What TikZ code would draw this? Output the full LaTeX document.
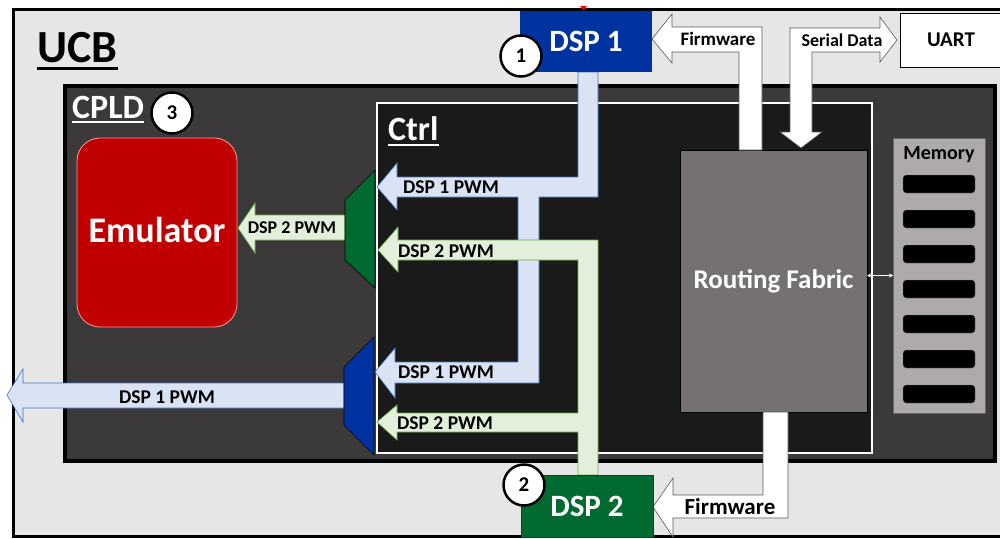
\documentclass[tikz,border=0pt]{standalone}
\usepackage{fontspec}
\setmainfont{Carlito}
\usetikzlibrary{positioning, arrows.meta}

\definecolor{ucbgray}{HTML}{E6E6E6}
\definecolor{cpldgray}{HTML}{3B3939}
\definecolor{ctrlblack}{HTML}{1A1A1A}
\definecolor{fabricgray}{HTML}{767171}
\definecolor{memgray}{HTML}{AEAAAA}
\definecolor{emured}{HTML}{C00000}
\definecolor{dspblue}{HTML}{0033A0}
\definecolor{dspgreen}{HTML}{006A30}
\definecolor{pwmblue}{HTML}{DAE3F3}
\definecolor{pwmblueline}{HTML}{4472C4}
\definecolor{pwmgreen}{HTML}{E2EFDA}
\definecolor{pwmgreenline}{HTML}{70AD47}

\newcommand{\fsz}[1]{\fontsize{#1}{#1}\selectfont\bfseries}

\begin{document}
\begin{tikzpicture}[x=1pt, y=-1pt,
    box/.style={anchor=north west, inner sep=0pt, outer sep=0pt},
    badge/.style={circle, draw=black, line width=2.5pt, fill=white, minimum size=41pt, inner sep=0pt, font=\fsz{21}},
    bluearrow/.style={fill=pwmblue, draw=pwmblueline, line width=0.6pt},
    greenarrow/.style={fill=pwmgreen, draw=pwmgreenline, line width=0.6pt},
    whitearrow/.style={fill=white, draw=gray!70!black, line width=0.6pt},
    lbl/.style={inner sep=0pt, text=black},
    slot/.style={fill=black, draw=gray, rounded corners=3pt, minimum width=72pt, minimum height=18pt, inner sep=0pt}]

    \useasboundingbox (0,0) rectangle (1000,538);
    \clip (0,0) rectangle (1000,538);
    \fill[white] (0,0) rectangle (1000,538);

    % boards and blocks
    \node[box, draw=black, fill=ucbgray, line width=3pt, minimum width=1000pt, minimum height=527pt] (ucb) at (13,9) {};
    \node[box, draw=black, fill=cpldgray, line width=3.5pt, minimum width=930pt, minimum height=375pt] (cpld) at (65,86) {};
    \node[box, draw=white, fill=ctrlblack, line width=2pt, minimum width=495pt, minimum height=350pt] (ctrl) at (377,103) {};
    \node[box, draw=black, fill=fabricgray, line width=0.8pt, minimum width=187pt, minimum height=262pt, text=white, font=\fsz{27}] (fabric) at (680,150) {\raisebox{3pt}{Routing Fabric}};
    \node[box, draw=gray!80!black, fill=memgray, line width=0.8pt, minimum width=92pt, minimum height=275pt] (memory) at (893,138) {};
    \node[box, draw=red!40!white, fill=emured, rounded corners=23pt, line width=0.8pt, minimum width=160pt, minimum height=189pt, text=white, font=\fsz{36}] (emu) at (77,138) {\raisebox{5pt}{Emulator}};

    \node[lbl, anchor=base, font=\fsz{20}] (memlabel) at (939,159) {Memory};
    \foreach \y [count=\i] in {184,219,...,394}
        \node[slot] (slot\i) at (939,\y) {};

    \draw[white, {Stealth[length=4pt,width=4pt]}-{Stealth[length=4pt,width=4pt]}, line width=0.8pt] (fabric.east |- memory.west) -- (memory.west);

    % DSP 1 PWM
    \draw[bluearrow] (578,72) -- (578,177) -- (397,177) -- (397,163) -- (377,187) -- (397,210) -- (397,197)
        -- (518,197) -- (518,362) -- (395,362) -- (395,348) -- (375,372) -- (395,398) -- (395,383)
        -- (539,383) -- (539,197) -- (598,197) -- (598,72) -- cycle;
    \draw[bluearrow] (344,383) -- (23,383) -- (23,369) -- (7,395) -- (23,422) -- (23,408) -- (344,408) -- cycle;

    % DSP 2 PWM
    \draw[greenarrow] (598,475) -- (598,240) -- (398,240) -- (398,227) -- (378,250) -- (398,272) -- (398,260)
        -- (578,260) -- (578,413) -- (397,413) -- (397,405) -- (377,422) -- (397,440) -- (397,432)
        -- (578,432) -- (578,475) -- cycle;
    \draw[greenarrow] (345,215) -- (255,215) -- (255,203) -- (238,228) -- (255,253) -- (255,240) -- (345,240) -- cycle;

    % firmware and serial data
    \draw[whitearrow] (762,150) -- (762,27) -- (672,27) -- (672,14) -- (652,39) -- (672,63) -- (672,52) -- (739,52) -- (739,150) -- cycle;
    \draw[whitearrow] (790,132) -- (790,28) -- (880,28) -- (880,17) -- (897,40) -- (880,62) -- (880,52)
        -- (812,52) -- (812,132) -- (822,132) -- (801,148) -- (780,132) -- cycle;
    \draw[whitearrow] (763,412) -- (763,495) -- (673,495) -- (673,478) -- (653,507) -- (673,537) -- (673,518) -- (788,518) -- (788,412) -- cycle;

    % muxes
    \draw[fill=dspgreen, line width=0.6pt] (375,170) -- (375,288) -- (345,260) -- (345,200) -- cycle;
    \draw[fill=dspblue, line width=0.6pt] (374,337) -- (374,455) -- (344,425) -- (344,367) -- cycle;

    % DSPs and UART
    \node[box, fill=dspblue, minimum width=132pt, minimum height=61pt, text=white, font=\fsz{31}] (dspone) at (520,11) {DSP 1};
    \node[box, fill=dspgreen, draw=dspgreen!70!black, line width=0.6pt, minimum width=132pt, minimum height=62pt, text=white, font=\fsz{31}] (dsptwo) at (521,475) {DSP 2};
    \node[box, fill=white, draw=black, line width=0.8pt, minimum width=102pt, minimum height=54pt, font=\fsz{21}] (uart) at (900,13) {UART};
    \fill[red] (580,6) -- (587,6) -- (583.5,10) -- cycle;

    % titles
    \node[lbl, anchor=base west, font=\fsz{46}] (ucblabel) at (37,62) {UCB};
    \draw[line width=3pt] ([yshift=-6pt]ucblabel.base west) -- ([yshift=-6pt]ucblabel.base east);
    \node[lbl, anchor=base west, text=white, font=\fsz{34}] (cpldlabel) at (72,118) {CPLD};
    \draw[white, line width=2pt] ([yshift=-4pt]cpldlabel.base west) -- ([yshift=-4pt]cpldlabel.base east);
    \node[lbl, anchor=base west, text=white, font=\fsz{34}] (ctrllabel) at (388,140) {Ctrl};
    \draw[white, line width=2pt] ([yshift=-5pt]ctrllabel.base west) -- ([yshift=-5pt]ctrllabel.base east);

    \node[badge] (one) at (521,56) {1};
    \node[badge] (two) at (524,485) {2};
    \node[badge] (three) at (172,113) {3};

    % arrow labels
    \node[lbl, anchor=west, font=\fsz{19.5}] (pwmonea) at (403,187) {DSP 1 PWM};
    \node[lbl, anchor=west, font=\fsz{19.5}] (pwmtwoa) at (398,251) {DSP 2 PWM};
    \node[lbl, anchor=west, font=\fsz{19.5}] (pwmoneb) at (398,372) {DSP 1 PWM};
    \node[lbl, anchor=west, font=\fsz{19.5}] (pwmtwob) at (397,423) {DSP 2 PWM};
    \node[lbl, font=\fsz{18}] (pwmemu) at (292,228) {DSP 2 PWM};
    \node[lbl, font=\fsz{19.5}] (pwmout) at (167,397) {DSP 1 PWM};
    \node[lbl, font=\fsz{19}] (fwtop) at (718,39) {Firmware};
    \node[lbl, font=\fsz{18}] (serial) at (842,40) {Serial Data};
    \node[lbl, font=\fsz{23}] (fwbot) at (730,507) {Firmware};
\end{tikzpicture}
\end{document}
